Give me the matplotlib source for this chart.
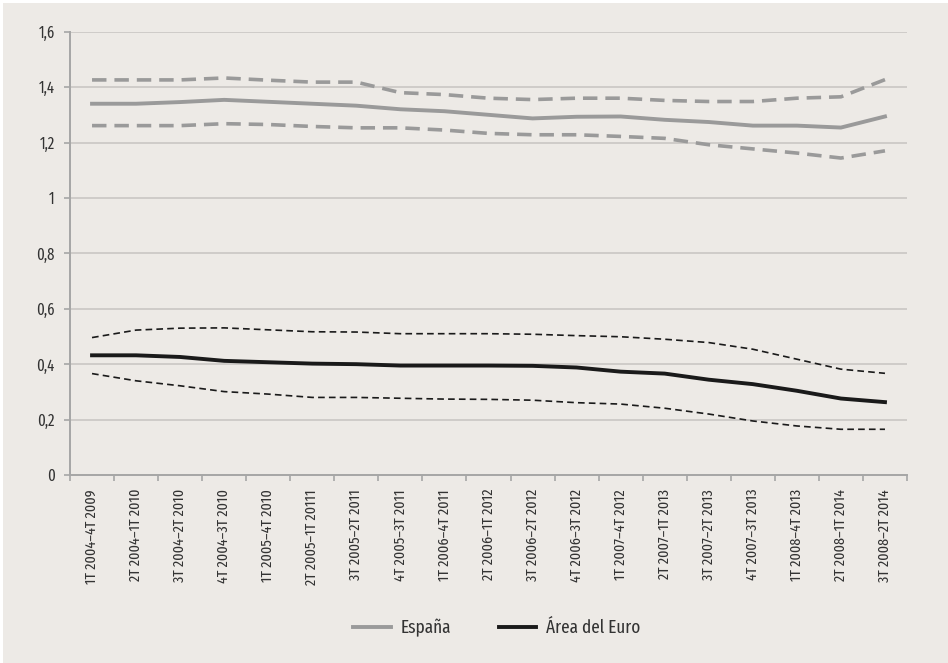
import matplotlib
matplotlib.use("Agg")
import matplotlib.pyplot as plt
from matplotlib.patches import Rectangle
from matplotlib import font_manager

periods = [
    "1T 2004–4T 2009", "2T 2004–1T 2010", "3T 2004–2T 2010", "4T 2004–3T 2010",
    "1T 2005–4T 2010", "2T 2005–1T 20111", "3T 2005–2T 2011", "4T 2005–3T 2011",
    "1T 2006–4T 2011", "2T 2006–1T 2012", "3T 2006–2T 2012", "4T 2006–3T 2012",
    "1T 2007–4T 2012", "2T 2007–1T 2013", "3T 2007–2T 2013", "4T 2007–3T 2013",
    "1T 2008–4T 2013", "2T 2008–1T 2014", "3T 2008–2T 2014",
]

espana = [1.340, 1.340, 1.346, 1.354, 1.347, 1.340, 1.333, 1.320, 1.313, 1.300,
          1.287, 1.293, 1.294, 1.282, 1.274, 1.261, 1.261, 1.254, 1.294]
espana_hi = [1.426, 1.426, 1.426, 1.433, 1.425, 1.418, 1.418, 1.380, 1.373, 1.360,
             1.355, 1.360, 1.360, 1.352, 1.348, 1.348, 1.360, 1.365, 1.427]
espana_lo = [1.261, 1.261, 1.261, 1.268, 1.265, 1.258, 1.253, 1.253, 1.245, 1.233,
             1.228, 1.228, 1.222, 1.215, 1.192, 1.177, 1.162, 1.144, 1.170]

euro = [0.432, 0.432, 0.426, 0.412, 0.407, 0.402, 0.400, 0.395, 0.395, 0.395,
        0.394, 0.388, 0.373, 0.366, 0.344, 0.328, 0.304, 0.276, 0.263]
euro_hi = [0.496, 0.523, 0.530, 0.531, 0.524, 0.517, 0.516, 0.510, 0.510, 0.510,
           0.508, 0.503, 0.499, 0.490, 0.478, 0.454, 0.418, 0.382, 0.367]
euro_lo = [0.366, 0.340, 0.322, 0.301, 0.292, 0.280, 0.280, 0.277, 0.274, 0.273,
           0.270, 0.261, 0.256, 0.241, 0.220, 0.195, 0.177, 0.165, 0.165]

y_ticks = [0, 0.2, 0.4, 0.6, 0.8, 1.0, 1.2, 1.4, 1.6]

installed = {f.name for f in font_manager.fontManager.ttflist}
candidates = ["Fira Sans Extra Condensed", "PT Sans Narrow", "Roboto Condensed", "Roboto"]
family = [next(c for c in candidates if c in installed or c == "Roboto")]
plt.rcParams["font.family"] = family + ["DejaVu Sans"]

BG = "#edeae6"
GREY = "#9a9a9a"
BLACK = "#1a1a1a"
TEXT = "#333333"

fig = plt.figure(figsize=(9.48, 6.63), dpi=100, facecolor="white")
fig.patches.append(Rectangle((3 / 948, 0), 1 - 3 / 948, 1 - 3 / 663,
                             transform=fig.transFigure, facecolor=BG,
                             edgecolor="none", zorder=-10))
ax = fig.add_axes([70 / 948, 1 - 475 / 663, 837 / 948, (475 - 31.7) / 663])
ax.set_facecolor(BG)

x = list(range(len(periods)))

ax.plot(x, espana_hi, color=GREY, lw=2.6, dashes=(4, 2.2))
ax.plot(x, espana_lo, color=GREY, lw=2.6, dashes=(4, 2.2))
ax.plot(x, espana, color=GREY, lw=2.8, label="España")
ax.plot(x, euro_hi, color=BLACK, lw=1.2, dashes=(4, 2.5))
ax.plot(x, euro_lo, color=BLACK, lw=1.2, dashes=(4, 2.5))
ax.plot(x, euro, color=BLACK, lw=2.8, label="Área del Euro")

ax.set_xlim(-0.5, len(periods) - 0.5)
ax.set_ylim(0, 1.6)
ax.set_yticks(y_ticks)
ax.set_yticklabels([("%g" % v).replace(".", ",") for v in y_ticks],
                   fontsize=11.5, color=TEXT)
ax.grid(axis="y", color="#c9c7c4", lw=1.2)
ax.set_axisbelow(True)

ax.set_xticks(x)
ax.set_xticklabels(periods, rotation=90, fontsize=11, color=TEXT, va="top")
ax.tick_params(axis="x", which="major", length=0, pad=10)
ax.set_xticks([i - 0.5 for i in range(len(periods) + 1)], minor=True)
ax.tick_params(axis="x", which="minor", length=4, color="#a6a6a6", width=1.2)
ax.tick_params(axis="y", length=4, color="#a6a6a6", width=1.2, pad=7)

for side in ("top", "right"):
    ax.spines[side].set_visible(False)
for side in ("left", "bottom"):
    ax.spines[side].set_color("#a6a6a6")
    ax.spines[side].set_linewidth(1.4)

handles, labels = ax.get_legend_handles_labels()
fig.legend(handles, labels, loc="center", bbox_to_anchor=(497 / 948, 1 - 628 / 663),
           ncol=2, frameon=False, fontsize=13.5, handlelength=2.0,
           columnspacing=2.5, handletextpad=0.55, labelcolor=TEXT)

fig.savefig("out.png", dpi=100, facecolor=fig.get_facecolor())
